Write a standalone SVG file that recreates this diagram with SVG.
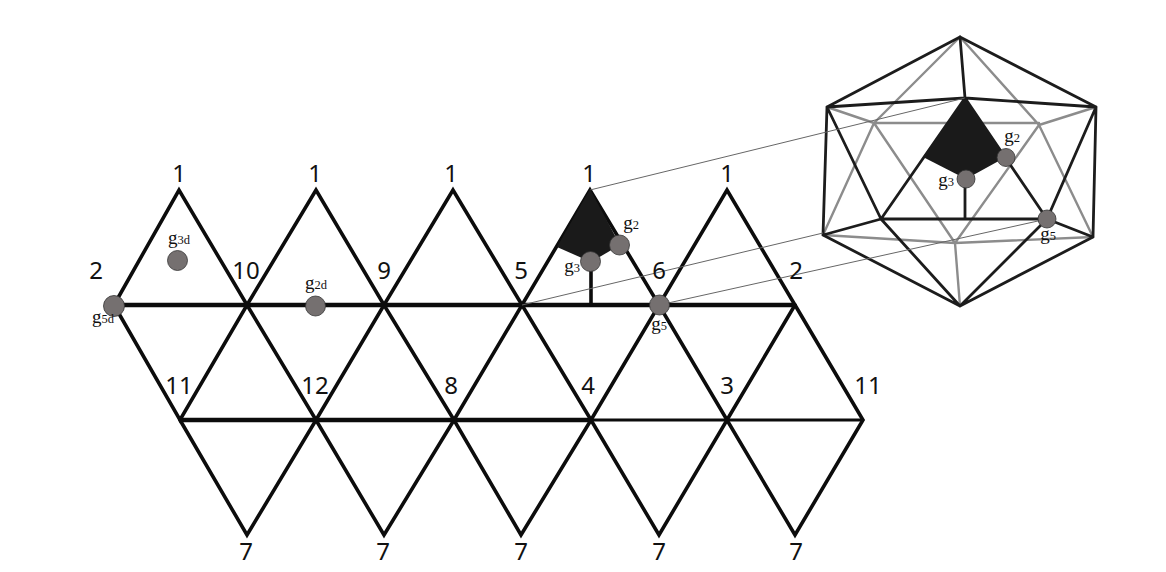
<svg xmlns="http://www.w3.org/2000/svg" width="1166" height="572" viewBox="0 0 1166 572">
<style>
.e{fill:none;stroke:#0c0c0c;stroke-width:3.6;stroke-linecap:round}
.h{fill:none;stroke:#0c0c0c;stroke-width:4.4}
.m{fill:none;stroke:#0c0c0c;stroke-width:3.2}
.k{fill:none;stroke:#1c1c1c;stroke-width:2.8;stroke-linecap:round}
.y{fill:none;stroke:#8c8c8c;stroke-width:2.4;stroke-linecap:round}
.t{fill:none;stroke:#666;stroke-width:1}
.d{fill:#757070;stroke:#333;stroke-width:.8}
.p{fill:#1a1a1a}
.n{font-family:"Noto Sans","DejaVu Sans",sans-serif;font-size:24px;fill:#111;text-anchor:middle}
.g{font-family:"Liberation Serif",serif;font-size:19px;fill:#111;text-anchor:middle}
.g tspan{font-size:12.500px}
</style>
<rect width="1166" height="572" fill="#fff"/>
<g id="connectors">
<path class="e" d="M114 305L179 190L247 305L316 190L384 305L453 190L522 305L590 190L659 305L727 190L795 305L727 420L659 305L591 420L522 305L454 420L384 305L316 420L247 305L180 420L114 305"/>
<path class="e" d="M180 420L247 535L316 420L384 535L454 420L521 535L591 420L659 535L727 420L795 535L863 420L795 305"/>
<path class="h" d="M114 305H795M180 420H590"/>
<path class="m" d="M590 420H863"/>
<path class="e" d="M591 262V305"/>
<g id="back-edges">
<path class="y" d="M960 37L874 123M960 37L1039 125M827 107L874 123M1096 107L1039 125M874 123H1039M823 235L874 123M1093 237L1039 125M874 123L955 243M1039 125L955 243M823 235L955 243M1093 237L955 243M955 243L960 306"/>
</g>
<g id="front-edges">
<path class="k" d="M960 37L827 107M960 37L1096 107M960 37L965 98M827 107L965 98M1096 107L965 98M827 107L823 235M1096 107L1093 237M823 235L960 306M1093 237L960 306M827 107L881 219M1096 107L1047 219M965 98L881 219M965 98L1047 219M881 219H1047M823 235L881 219M1093 237L1047 219M881 219L960 306M1047 219L960 306M965 179V219"/>
</g>
<path class="t" d="M590 190L965 98M522 305L823 233M659 305L1047 219"/>
</g>
<g id="face-net"><path class="p" d="M590 189L557 247L591 262L620 245Z"/></g>
<g id="face-solid"><path class="p" d="M965 98L923 157L966 179L1006 157Z"/></g>
<g id="n-g5d"><circle class="d" cx="114" cy="306" r="10.500"/><text class="g" x="103" y="323">g<tspan>5d</tspan></text></g>
<g id="n-g3d"><circle class="d" cx="177.500" cy="260.500" r="10"/><text class="g" x="179" y="244">g<tspan>3d</tspan></text></g>
<g id="n-g2d"><circle class="d" cx="315.500" cy="306" r="10"/><text class="g" x="316" y="289">g<tspan>2d</tspan></text></g>
<g id="n-g3"><circle class="d" cx="590.500" cy="261.500" r="10"/><text class="g" x="572" y="272">g<tspan>3</tspan></text></g>
<g id="n-g2"><circle class="d" cx="619.500" cy="245" r="10"/><text class="g" x="631" y="229">g<tspan>2</tspan></text></g>
<g id="n-g5"><circle class="d" cx="659.500" cy="305" r="10"/><text class="g" x="659" y="330">g<tspan>5</tspan></text></g>
<g id="i-g3"><circle class="d" cx="966" cy="179" r="9"/><text class="g" x="946" y="186">g<tspan>3</tspan></text></g>
<g id="i-g2"><circle class="d" cx="1006" cy="157.500" r="9"/><text class="g" x="1012" y="142">g<tspan>2</tspan></text></g>
<g id="i-g5"><circle class="d" cx="1047" cy="219" r="9"/><text class="g" x="1048" y="240">g<tspan>5</tspan></text></g>
<g id="labels">
<text class="n" x="179" y="182">1</text><text class="n" x="315" y="182">1</text><text class="n" x="451" y="182">1</text><text class="n" x="589" y="182">1</text><text class="n" x="727" y="182">1</text>
<text class="n" x="96" y="279">2</text><text class="n" x="246" y="279">10</text><text class="n" x="384" y="279">9</text><text class="n" x="521" y="279">5</text><text class="n" x="659" y="279">6</text><text class="n" x="796" y="279">2</text>
<text class="n" x="179" y="394">11</text><text class="n" x="315" y="394">12</text><text class="n" x="451" y="394">8</text><text class="n" x="588" y="394">4</text><text class="n" x="727" y="394">3</text><text class="n" x="868" y="394">11</text>
<text class="n" x="246" y="560">7</text><text class="n" x="383" y="560">7</text><text class="n" x="521" y="560">7</text><text class="n" x="659" y="560">7</text><text class="n" x="796" y="560">7</text>
</g>
</svg>
